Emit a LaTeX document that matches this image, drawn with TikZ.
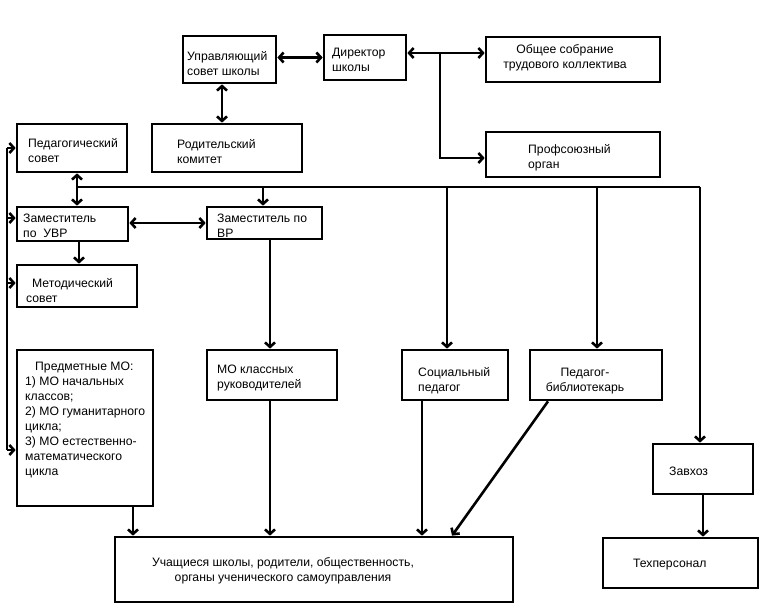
\documentclass[tikz,border=0pt]{standalone}
\usepackage{fontspec}
\setmainfont{Liberation Sans}
\usetikzlibrary{arrows.meta}
\begin{document}
\begin{tikzpicture}[x=1pt,y=-1pt,
  box/.style={draw, line width=2.7pt, inner sep=0pt},
  txt/.style={inner sep=0pt, align=left, anchor=base west, font=\fontsize{12.2}{15}\selectfont},
  ctxt/.style={inner sep=0pt, align=center, anchor=base, font=\fontsize{12.2}{15}\selectfont},
  con/.style={line width=2.6pt},
  >={Straight Barb[length=4.5pt,width=10pt]}]
\useasboundingbox (0,0) rectangle (768,615);
% boxes
\node[box, minimum width=93pt, minimum height=47pt] (ups) at (229.5,59.5) {};
\node[box, minimum width=82pt, minimum height=45pt] (dir) at (365,57.5) {};
\node[box, minimum width=174pt, minimum height=45pt] (obs) at (573,59.5) {};
\node[box, minimum width=174pt, minimum height=45pt] (prof) at (573,154.5) {};
\node[box, minimum width=150pt, minimum height=48pt] (rod) at (227,148) {};
\node[box, minimum width=110pt, minimum height=48pt] (ped) at (72,148) {};
\node[box, minimum width=111pt, minimum height=34pt] (zuvr) at (72.5,224) {};
\node[box, minimum width=115pt, minimum height=32pt] (zvr) at (264.5,223) {};
\node[box, minimum width=120pt, minimum height=42pt] (met) at (77,286) {};
\node[box, minimum width=136pt, minimum height=156pt] (pmo) at (85,428) {};
\node[box, minimum width=130pt, minimum height=50pt] (mok) at (272,375) {};
\node[box, minimum width=106pt, minimum height=50pt] (soc) at (455,375) {};
\node[box, minimum width=132pt, minimum height=50pt] (bib) at (596,375) {};
\node[box, minimum width=398pt, minimum height=65pt] (uch) at (314,569.5) {};
\node[box, minimum width=100pt, minimum height=50pt] (zav) at (703,469) {};
\node[box, minimum width=155pt, minimum height=50pt] (teh) at (680.5,563) {};
% texts (base = baseline of last line)
\node[txt] (tups) at (187,76) {Управляющий\\совет школы};
\node[txt] (tdir) at (332,72) {Директор\\школы};
\node[ctxt] (tobs) at (565,69) {Общее собрание\\трудового коллектива};
\node[txt] (tprof) at (528,168) {Профсоюзный\\орган};
\node[txt] (trod) at (177,163) {Родительский\\комитет};
\node[txt] (tped) at (28,162) {Педагогический\\совет};
\node[txt] (tzuvr) at (23,237) {Заместитель\\по~~УВР};
\node[txt] (tzvr) at (217,237) {Заместитель по\\ВР};
\node[txt] (tmet) at (26,302) {\hspace{6pt}Методический\\совет};
\node[txt] (tpmo) at (25,475) {\hspace{10pt}Предметные МО:\\1) МО начальных\\классов;\\2) МО гуманитарного\\цикла;\\3) МО естественно-\\математического\\цикла};
\node[txt] (tmok) at (217,388) {МО классных\\руководителей};
\node[txt] (tsoc) at (418,391) {Социальный\\педагог};
\node[ctxt] (tbib) at (585,391) {Педагог-\\библиотекарь};
\node[ctxt] (tuch) at (283,581) {Учащиеся школы, родители, общественность,\\органы ученического самоуправления};
\node[txt] (tzav) at (669,475) {Завхоз};
\node[txt] (tteh) at (633,567) {Техперсонал};
% junction coordinates
\coordinate (jd) at (440,53);
\coordinate (jp) at (440,158);
\coordinate (hL) at (77,187);
\coordinate (hR) at (700,187);
\coordinate (bT) at (7,148);
\coordinate (bB) at (7,450);
% connectors
\draw[con,<->] (ups.east |- dir.west) -- (dir.west);
\draw[con,<->] (dir.east |- jd) -- (obs.west |- jd);
\draw[con,->] (jd) -- (jp) -- (prof.west |- jp);
\draw[con,<->] (ups.south -| 222,0) -- (rod.north -| 222,0);
\draw[con,<->] (ped.south -| hL) -- (zuvr.north -| hL);
\draw[con] (hL) -- (hR);
\draw[con,->] (263,187) -- (zvr.north -| 263,0);
\draw[con,->] (447,187) -- (soc.north -| 447,0);
\draw[con,->] (597,187) -- (bib.north -| 597,0);
\draw[con,->] (hR) -- (zav.north -| hR);
\draw[con,<->] (zuvr.east |- 0,223) -- (zvr.west |- 0,223);
\draw[con,->] (zuvr.south -| 79,0) -- (met.north -| 79,0);
\draw[con] (bT) -- (bB);
\draw[con,->] (bT) -- (ped.west |- bT);
\draw[con,->] (7,218) -- (zuvr.west |- 0,218);
\draw[con,->] (7,283) -- (met.west |- 0,283);
\draw[con,->] (bB) -- (pmo.west |- bB);
\draw[con,->] (zvr.south -| 270,0) -- (mok.north -| 270,0);
\draw[con,->] (mok.south -| 270,0) -- (uch.north -| 270,0);
\draw[con,->] (pmo.south -| 133,0) -- (uch.north -| 133,0);
\draw[con,->] (soc.south -| 422,0) -- (uch.north -| 422,0);
\draw[con,->] (bib.south -| 548,0) -- (uch.north -| 452,0);
\draw[con,->] (zav.south -| 703,0) -- (teh.north -| 703,0);
\end{tikzpicture}
\end{document}
